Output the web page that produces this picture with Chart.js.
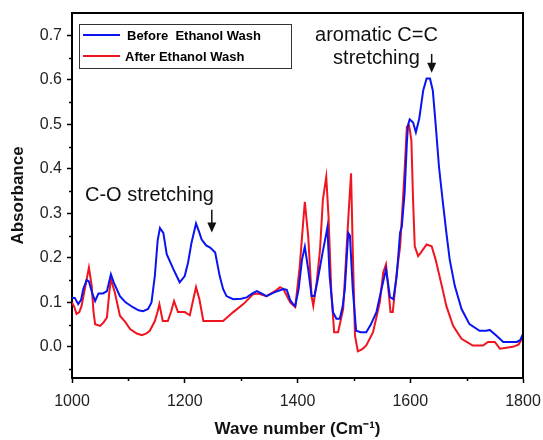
<!DOCTYPE html>
<html>
<head>
<meta charset="utf-8">
<script src="https://cdn.jsdelivr.net/npm/chart.js@4.4.1/dist/chart.umd.min.js"></script>
<style>
  html, body { margin: 0; padding: 0; background: #fff; }
  #ftirChart { display: block; }
</style>
</head>
<body>
<canvas id="ftirChart" width="543" height="440"></canvas>
<script>
    // spectra (wavenumber cm-1, absorbance)
    const beforeWave = [1000,1005,1011,1016,1020,1026,1030,1036,1041,1047,1055,1062,1069,1074,1085,1095,1108,1118,1126,1135,1141,1147,1152,1156,1162,1168,1180,1191,1200,1206,1212,1220,1225,1230,1238,1245,1254,1262,1268,1274,1286,1300,1310,1320,1328,1336,1345,1355,1364,1375,1381,1387,1392,1396,1402,1408,1413,1419,1425,1430,1435,1440,1445,1449,1453,1457,1463,1469,1475,1480,1484,1490,1493,1498,1504,1512,1522,1530,1540,1549,1557,1561,1564,1570,1576,1582,1585,1590,1594,1596,1599,1605,1610,1616,1623,1629,1635,1640,1645,1651,1658,1664,1670,1679,1691,1705,1723,1735,1741,1753,1765,1789,1795,1800];
    const beforeAbs = [0.11,0.11,0.096,0.105,0.13,0.15,0.147,0.12,0.103,0.12,0.12,0.125,0.163,0.145,0.114,0.1,0.089,0.082,0.08,0.085,0.1,0.16,0.24,0.267,0.256,0.208,0.174,0.145,0.159,0.19,0.234,0.277,0.26,0.241,0.228,0.223,0.212,0.159,0.13,0.114,0.107,0.108,0.111,0.12,0.125,0.12,0.114,0.12,0.125,0.13,0.128,0.105,0.096,0.092,0.13,0.196,0.225,0.174,0.114,0.114,0.145,0.18,0.215,0.241,0.268,0.159,0.078,0.063,0.063,0.09,0.13,0.256,0.25,0.13,0.036,0.033,0.033,0.05,0.078,0.13,0.174,0.14,0.112,0.107,0.159,0.257,0.27,0.346,0.458,0.498,0.511,0.504,0.482,0.513,0.576,0.603,0.603,0.576,0.501,0.404,0.323,0.257,0.196,0.137,0.085,0.051,0.036,0.036,0.038,0.025,0.011,0.011,0.015,0.029];

    const afterWave = [1000,1004,1008,1013,1017,1025,1030,1035,1038,1041,1050,1056,1062,1066,1069,1076,1085,1095,1103,1115,1124,1132,1138,1147,1152,1155,1161,1170,1176,1181,1188,1200,1209,1214,1220,1226,1233,1250,1268,1286,1304,1321,1330,1345,1360,1369,1375,1387,1396,1404,1410,1413,1419,1425,1428,1434,1440,1445,1451,1455,1460,1465,1472,1481,1487,1491,1495,1498,1502,1507,1515,1522,1534,1546,1552,1557,1560,1565,1569,1576,1582,1587,1590,1594,1598,1602,1605,1608,1614,1620,1629,1638,1645,1656,1664,1676,1691,1711,1729,1738,1750,1759,1782,1792,1800];
    const afterAbs = [0.1,0.09,0.074,0.078,0.092,0.145,0.178,0.137,0.08,0.051,0.047,0.055,0.066,0.12,0.152,0.122,0.07,0.055,0.04,0.03,0.026,0.03,0.036,0.058,0.08,0.096,0.058,0.058,0.08,0.103,0.078,0.078,0.071,0.1,0.134,0.107,0.058,0.058,0.058,0.078,0.096,0.118,0.12,0.114,0.125,0.134,0.13,0.1,0.089,0.181,0.279,0.326,0.248,0.114,0.092,0.145,0.219,0.33,0.382,0.293,0.123,0.033,0.033,0.085,0.219,0.308,0.39,0.219,0.025,-0.01,-0.005,0.003,0.033,0.1,0.167,0.185,0.145,0.078,0.078,0.167,0.225,0.33,0.397,0.494,0.497,0.464,0.33,0.226,0.204,0.214,0.23,0.226,0.196,0.137,0.092,0.047,0.018,0.003,0.003,0.011,0.011,-0.004,0.0,0.005,0.022];

    const seriesLabels = ['Before  Ethanol Wash', 'After Ethanol Wash'];
    const seriesColors = ['#0a14f0', '#f0141e'];

    const xTicks = [1000, 1200, 1400, 1600, 1800];
    const xMinor = [1100, 1300, 1500, 1700];
    const yTicks = [0, 0.1, 0.2, 0.3, 0.4, 0.5, 0.6, 0.7];
    const yMinor = [-0.05, 0.05, 0.15, 0.25, 0.35, 0.45, 0.55, 0.65];

    const FONT = "'Liberation Sans', Arial, sans-serif";

    const toPoints = (xs, ys) => xs.map((x, i) => ({ x: x, y: ys[i] }));

    // frame, minor ticks, legend box and the two peak labels
    const decorPlugin = {
        id: 'decor',
        afterDraw(chart) {
            const ctx = chart.ctx;
            const { left, right, top, bottom } = chart.chartArea;
            const xs = chart.scales.x, ys = chart.scales.y;
            ctx.save();

            ctx.strokeStyle = '#000';
            ctx.lineWidth = 2;
            ctx.beginPath();
            ctx.moveTo(left, top); ctx.lineTo(right, top); ctx.lineTo(right, bottom);
            ctx.stroke();

            ctx.lineWidth = 1.5;
            ctx.beginPath();
            xMinor.forEach(v => {
                const px = Math.round(xs.getPixelForValue(v)) + 0.5;
                ctx.moveTo(px, bottom); ctx.lineTo(px, bottom + 3);
            });
            yMinor.forEach(v => {
                const py = Math.round(ys.getPixelForValue(v)) + 0.5;
                ctx.moveTo(left, py); ctx.lineTo(left - 3, py);
            });
            ctx.stroke();

            // legend
            const lx = left + 7, ly = top + 11;
            ctx.lineWidth = 1;
            ctx.strokeStyle = '#333';
            ctx.strokeRect(lx + 0.5, ly + 0.5, 212, 44);
            ctx.font = 'bold 13px ' + FONT;
            ctx.textBaseline = 'middle';
            ctx.fillStyle = '#000';
            chart.data.datasets.forEach((ds, i) => {
                const yy = ly + 11 + i * 21;
                ctx.strokeStyle = ds.borderColor;
                ctx.lineWidth = 2;
                ctx.beginPath();
                ctx.moveTo(lx + 4, yy); ctx.lineTo(lx + 41, yy);
                ctx.stroke();
                ctx.fillText(ds.label, lx + (i === 0 ? 48 : 46), yy + 1);
            });

            // annotations
            ctx.fillStyle = '#111';
            ctx.strokeStyle = '#111';
            ctx.font = '20px ' + FONT;
            ctx.textBaseline = 'alphabetic';
            ctx.textAlign = 'left';
            ctx.fillText('C-O stretching', xs.getPixelForValue(1023), ys.getPixelForValue(0.328));
            ctx.textAlign = 'center';
            ctx.fillText('aromatic C=C', xs.getPixelForValue(1540), ys.getPixelForValue(0.688));
            ctx.fillText('stretching', xs.getPixelForValue(1540), ys.getPixelForValue(0.636));

            const arrow = (xv, y0, y1) => {
                const ax = xs.getPixelForValue(xv);
                const a0 = ys.getPixelForValue(y0), a1 = ys.getPixelForValue(y1);
                ctx.lineWidth = 1.5;
                ctx.beginPath();
                ctx.moveTo(ax, a0); ctx.lineTo(ax, a1 - 8);
                ctx.stroke();
                ctx.beginPath();
                ctx.moveTo(ax - 4.5, a1 - 10); ctx.lineTo(ax + 4.5, a1 - 10); ctx.lineTo(ax, a1);
                ctx.closePath();
                ctx.fill();
            };
            arrow(1248, 0.308, 0.257);
            arrow(1638, 0.658, 0.616);

            ctx.restore();
        }
    };

    new Chart(document.getElementById('ftirChart'), {
        type: 'line',
        data: {
            datasets: [
                { label: seriesLabels[0], data: toPoints(beforeWave, beforeAbs), borderColor: seriesColors[0], borderWidth: 2, pointRadius: 0, tension: 0, fill: false },
                { label: seriesLabels[1], data: toPoints(afterWave, afterAbs), borderColor: seriesColors[1], borderWidth: 2, pointRadius: 0, tension: 0, fill: false }
            ]
        },
        options: {
            responsive: false,
            animation: false,
            layout: { padding: { top: 13, right: 20, left: 0, bottom: 0 } },
            plugins: { legend: { display: false }, tooltip: { enabled: false } },
            scales: {
                x: {
                    type: 'linear', min: 1000, max: 1800,
                    afterBuildTicks: s => { s.ticks = xTicks.map(v => ({ value: v })); },
                    afterFit: s => { s.height = 62; s.paddingLeft = 0; s.paddingRight = 0; },
                    grid: { drawOnChartArea: false, tickLength: 5, tickColor: '#000', tickWidth: 1.5 },
                    border: { color: '#000', width: 2 },
                    ticks: { color: '#222', font: { family: FONT, size: 16 }, padding: 9, maxRotation: 0, callback: v => String(v) },
                    title: { display: true, text: 'Wave number (Cm\u207B\u00B9)', color: '#111', font: { family: FONT, size: 17, weight: 'bold' }, padding: { top: 0, bottom: 0 } }
                },
                y: {
                    min: -0.07, max: 0.75,
                    afterBuildTicks: s => { s.ticks = yTicks.map(v => ({ value: v })); },
                    afterFit: s => { s.width = 72; s.paddingTop = 0; s.paddingBottom = 0; },
                    grid: { drawOnChartArea: false, tickLength: 5, tickColor: '#000', tickWidth: 1.5 },
                    border: { color: '#000', width: 2 },
                    ticks: { color: '#222', font: { family: FONT, size: 16 }, padding: 5, callback: v => v.toFixed(1) },
                    title: { display: true, text: 'Absorbance', color: '#111', font: { family: FONT, size: 17, weight: 'bold' }, padding: { top: 8, bottom: 0 } }
                }
            }
        },
        plugins: [decorPlugin]
    });
</script>
</body>
</html>
